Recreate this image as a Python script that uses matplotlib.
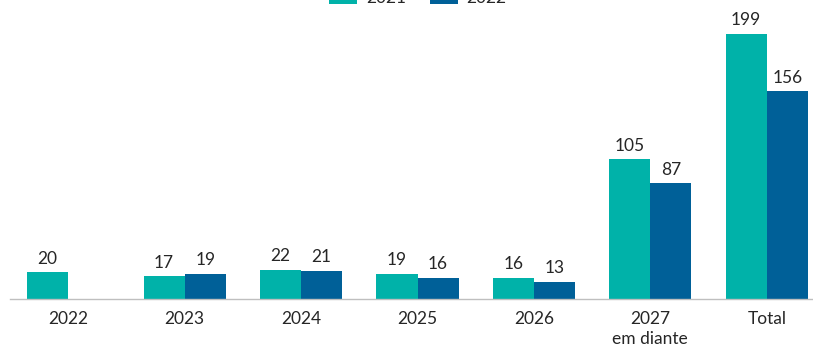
import matplotlib
matplotlib.use("Agg")
import matplotlib.pyplot as plt
import numpy as np

categories = ["2022", "2023", "2024", "2025", "2026", "2027\nem diante", "Total"]
series_names = ["2021", "2022"]
values_2021 = [20, 17, 22, 19, 16, 105, 199]
values_2022 = [None, 19, 21, 16, 13, 87, 156]

teal = "#00B2A9"
blue = "#006098"
txt = "#262626"
plt.rcParams['font.family'] = ['Lato', 'DejaVu Sans']

W, H = 813, 349
fig = plt.figure(figsize=(W / 100, H / 100), dpi=100)
ax = fig.add_axes([10 / W, 50 / H, 815 / W, 299 / H])

x = np.arange(len(categories))
bw = 0.353
v1 = np.array(values_2021, dtype=float)
v2 = np.array([np.nan if v is None else v for v in values_2022], dtype=float)
b1 = ax.bar(x - bw / 2, v1, bw, color=teal, label=series_names[0])
b2 = ax.bar(x + bw / 2, np.nan_to_num(v2), bw, color=blue, label=series_names[1])

for xi, v in zip(x, v1):
    ax.annotate(f"{int(v)}", (xi - bw / 2, v), xytext=(0, 4), textcoords="offset points",
                ha="center", va="bottom", fontsize=12.5, color=txt)
for xi, v in zip(x, v2):
    if not np.isnan(v):
        ax.annotate(f"{int(v)}", (xi + bw / 2, v), xytext=(0, 4), textcoords="offset points",
                    ha="center", va="bottom", fontsize=12.5, color=txt)

ax.set_xlim(-0.5, len(categories) - 0.5)
ax.set_ylim(0, 224.5)
ax.set_xticks(x)
ax.set_xticklabels(categories, fontsize=12.5, color=txt, linespacing=1.25)
ax.tick_params(axis="x", length=0, pad=9)
ax.set_yticks([])
for s in ["top", "right", "left"]:
    ax.spines[s].set_visible(False)
ax.spines["bottom"].set_color("#BFBFBF")
ax.spines["bottom"].set_linewidth(1.0)

fig.legend(handles=[b1, b2], labels=series_names, loc="center", ncol=2,
           bbox_to_anchor=(418 / W, 1.0 + 2 / H), frameon=False, fontsize=12.5,
           handlelength=1.6, handleheight=0.9, columnspacing=1.4, handletextpad=0.5,
           labelcolor=txt)

fig.savefig("out.png", dpi=100)
